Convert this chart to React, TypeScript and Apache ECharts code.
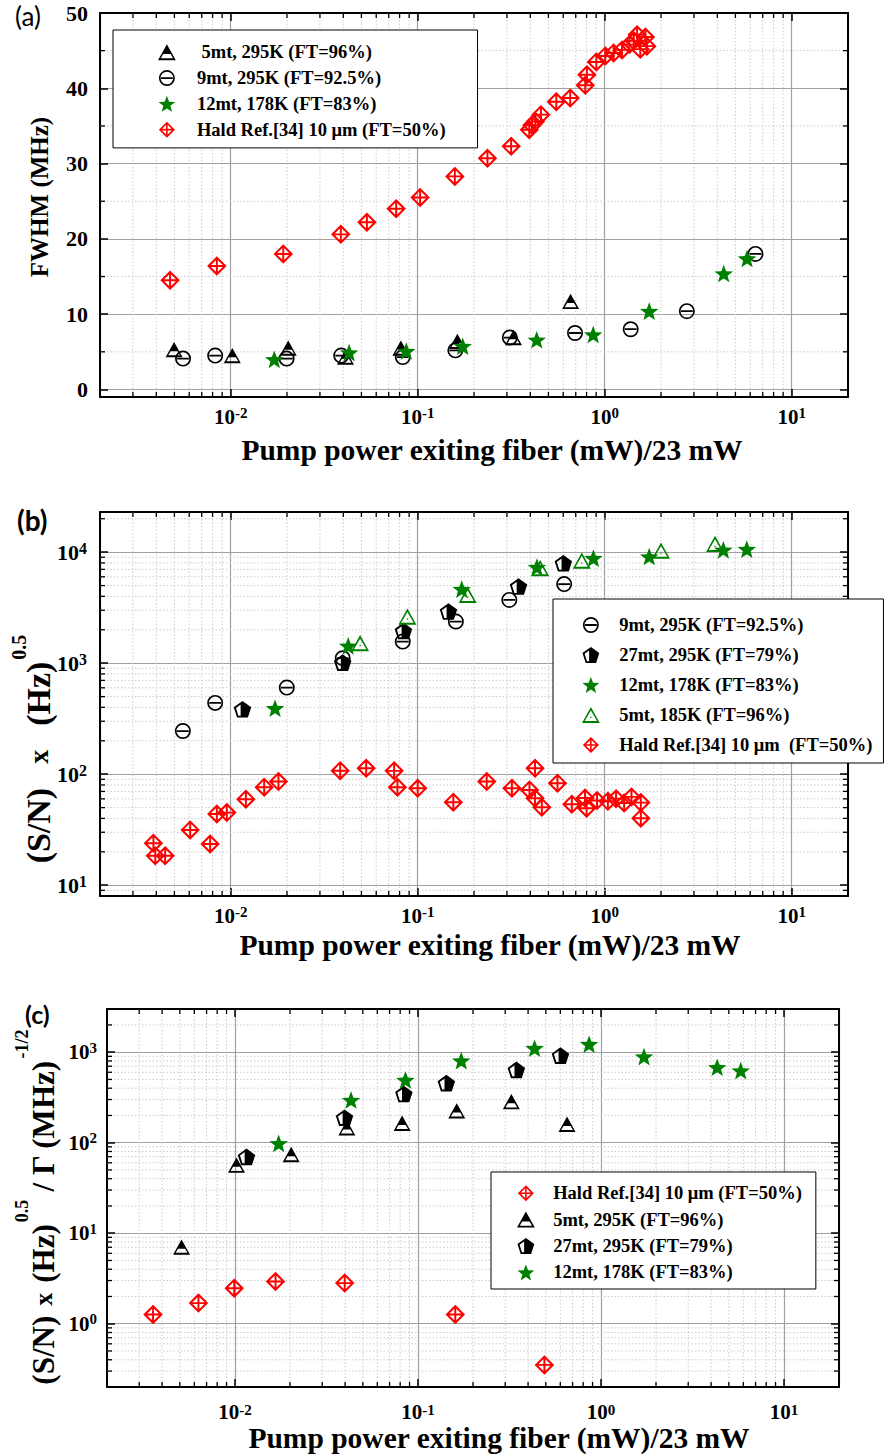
import React, { useEffect, useRef } from 'react';
import * as echarts from 'echarts';

type Pt = [number, number];

// ---- (a) FWHM (MHz) against normalised pump power ----
const fwhm5mt295: Pt[] = [
  [0.00498, 5.3], [0.0102, 4.5], [0.0203, 5.5], [0.0411, 4.3], [0.0813, 5.5],
  [0.163, 6.4], [0.325, 6.9], [0.657, 11.7],
];
const fwhm9mt295: Pt[] = [
  [0.00556, 4.1], [0.00826, 4.5], [0.0199, 4.1], [0.039, 4.5], [0.0832, 4.3],
  [0.159, 5.2], [0.311, 6.9], [0.694, 7.5], [1.377, 8.0], [2.75, 10.4], [6.4, 18.0],
];
const fwhm12mt178: Pt[] = [
  [0.0171, 4.0], [0.043, 4.9], [0.0869, 5.1], [0.174, 5.75], [0.433, 6.6],
  [0.868, 7.3], [1.73, 10.4], [4.33, 15.4], [5.77, 17.4],
];
const fwhmHald: Pt[] = [
  [0.00474, 14.5], [0.00843, 16.4], [0.0191, 18.0], [0.0388, 20.6], [0.0535, 22.2],
  [0.0767, 24.0], [0.103, 25.5], [0.158, 28.3], [0.236, 30.7], [0.316, 32.3],
  [0.395, 34.5], [0.408, 35.1], [0.426, 35.6], [0.456, 36.5], [0.551, 38.2],
  [0.654, 38.7], [0.787, 40.4], [0.803, 41.8], [0.902, 43.5], [1.008, 44.3],
  [1.116, 44.7], [1.238, 45.1], [1.355, 45.8], [1.43, 46.3], [1.49, 47.1],
  [1.55, 45.2], [1.65, 46.8], [1.68, 45.6],
];

// ---- (b) (S/N) x (Hz)^0.5 ----
const snr9mt295: Pt[] = [
  [0.00555, 245], [0.00826, 439], [0.01995, 603], [0.0397, 1109], [0.0832, 1566],
  [0.16, 2372], [0.309, 3715], [0.607, 5154],
];
const snr27mt295: Pt[] = [
  [0.01156, 385], [0.0397, 1011], [0.0839, 1954], [0.146, 2917], [0.346, 4899], [0.601, 7953],
];
const snr12mt178: Pt[] = [
  [0.01726, 393], [0.0425, 1432], [0.172, 4643], [0.434, 7329], [0.87, 8831],
  [1.73, 9130], [4.31, 10490], [5.75, 10640],
];
const snr5mt185: Pt[] = [
  [0.0492, 1514], [0.0881, 2630], [0.185, 4118], [0.452, 7183], [0.754, 8393],
  [2.0, 10330], [3.89, 11880],
];
const snrHald: Pt[] = [
  [0.00386, 23.9], [0.00395, 18.4], [0.00446, 18.4], [0.00607, 31.5], [0.00776, 23.5],
  [0.00843, 43.8], [0.00953, 45.1], [0.01205, 59.6], [0.0151, 76.4], [0.018, 85.8],
  [0.0385, 107.6], [0.053, 113.2], [0.0748, 107.2], [0.0779, 76.4], [0.1, 74.8],
  [0.155, 56.0], [0.234, 85.8], [0.319, 74.8], [0.396, 72.2], [0.424, 113.2],
  [0.424, 60.8], [0.461, 50.5], [0.559, 83.0], [0.667, 53.7], [0.785, 61.0],
  [0.8, 49.4], [0.91, 58.0], [1.04, 57.0], [1.15, 60.0], [1.27, 55.0],
  [1.39, 62.5], [1.56, 55.5], [1.56, 40.2],
];

// ---- (c) (S/N) x (Hz)^0.5 / Γ (MHz)^-1/2 ----
const fom5mt295: Pt[] = [
  [0.00511, 7.03], [0.0102, 56.5], [0.0203, 74.1], [0.0409, 146], [0.082, 164],
  [0.163, 225], [0.324, 284], [0.653, 160],
];
const fom27mt295: Pt[] = [
  [0.01157, 69.8], [0.0397, 189], [0.0838, 345], [0.143, 455], [0.345, 637], [0.601, 917],
];
const fom12mt178: Pt[] = [
  [0.01734, 98.2], [0.0431, 296], [0.0855, 493], [0.1725, 807], [0.434, 1107],
  [0.862, 1226], [1.72, 894], [4.32, 682], [5.81, 626],
];
const fomHald: Pt[] = [
  [0.00357, 1.265], [0.00632, 1.69], [0.00991, 2.47], [0.01667, 2.93], [0.0398, 2.81],
  [0.16, 1.265], [0.491, 0.351],
];

// ---- axis ranges and tick values ----
const X_RANGE: [number, number] = [0.002, 20];
const A_Y_RANGE: [number, number] = [-1, 50];
const B_Y_RANGE: [number, number] = [8, 23000];
const C_Y_RANGE: [number, number] = [0.2, 3000];
const A_Y_MINOR = [5, 15, 25, 35, 45];
const DECADE_STEPS = [2, 3, 4, 5, 6, 7, 8, 9];

// ---- texts ----
const X_TITLE = 'Pump power exiting fiber (mW)/23 mW';
const N_5MT_A = ' 5mt, 295K (FT=96%)';
const N_5MT = '5mt, 295K (FT=96%)';
const N_9MT = '9mt, 295K (FT=92.5%)';
const N_12MT = '12mt, 178K (FT=83%)';
const N_27MT = '27mt, 295K (FT=79%)';
const N_5MT185 = '5mt, 185K (FT=96%)';
const N_HALD = 'Hald Ref.[34] 10 μm (FT=50%)';
const N_HALD_B = 'Hald Ref.[34] 10 μm  (FT=50%)';

const SERIF = 'Liberation Serif';
const SANS = 'Lato';
const RED = '#ff0000';
const GREEN = '#008000';
const BLACK = '#000000';

// Marker outlines drawn in a 20-unit box (non-zero fill: inner contours run the other way)
const SYM_TRI_HALF = 'path://M10 0L20 18L0 18Z M10 4L3.1 15.8L16.9 15.8Z M10 0L16.1 11L3.9 11Z';
const SYM_TRI_OPEN = 'path://M10 0L20 18L0 18Z M10 4L3.1 15.8L16.9 15.8Z M9.3 11.1L10.7 11.1L10.7 12.5L9.3 12.5Z';
const SYM_CIRCLE_BAR = 'path://M0 10A10 10 0 1 1 20 10A10 10 0 1 1 0 10Z M2.1 10A7.9 7.9 0 1 0 17.9 10A7.9 7.9 0 1 0 2.1 10Z M2.6 8.9L17.4 8.9L17.4 11.1L2.6 11.1Z';
const SYM_DIAMOND_CROSS = 'path://M10 0L20 10L10 20L0 10Z M10 3L3 10L10 17L17 10Z M9 2L11 2L11 18L9 18Z M2 9L18 9L18 11L2 11Z';
const SYM_PENTA_HALF = 'path://M10 0L19.51 6.91L15.88 18.09L4.12 18.09L0.49 6.91Z M10 2.5L2.87 7.68L5.59 16.07L14.41 16.07L17.13 7.68Z M8 1.45L10 0L19.51 6.91L15.88 18.09L8 18.09Z';
const SYM_STAR = 'path://M10 0L12.47 6.6L19.51 6.91L13.99 11.3L15.88 18.09L10 14.2L4.12 18.09L6.01 11.3L0.49 6.91L7.53 6.6Z';

const GRIDS = [
  { left: 100, top: 13, width: 748, height: 384 },
  { left: 100, top: 512, width: 748, height: 384 },
  { left: 107, top: 1009, width: 732, height: 378 },
];

const AXIS_LINE = { show: true, onZero: false, lineStyle: { color: BLACK, width: 2 } };
const MAJOR_TICK = { show: true, inside: true, length: 8, lineStyle: { color: BLACK, width: 1.5 } };
const MAJOR_GRID = { show: true, lineStyle: { color: '#a0a0a0', width: 1.2, type: 'solid' } };
const NO_GRID = { show: false };
const MINOR_GRID_STYLE = { stroke: '#cccccc', lineWidth: 1, lineDash: [1.5, 2] };
const MINOR_TICK_STYLE = { stroke: BLACK, lineWidth: 1.3 };

const logMinor = (range: [number, number]) => {
  const out: number[] = [];
  const e0 = Math.floor(Math.log10(range[0]));
  const e1 = Math.ceil(Math.log10(range[1]));
  for (let e = e0; e <= e1; e++) {
    for (const k of DECADE_STEPS) {
      const v = +(k * Math.pow(10, e)).toPrecision(4);
      if (v > range[0] * 1.0001 && v < range[1] * 0.9999) out.push(v);
    }
  }
  return out;
};

const powLabel = (v: number) => {
  const l = Math.log10(v);
  const e = Math.round(l);
  return Math.abs(l - e) < 1e-6 ? `{b|10}{s|${e}}` : '';
};

const powRich = (base: number, sup: number, lh = 24) => ({
  b: { fontFamily: SERIF, fontWeight: 'bold', fontSize: base, lineHeight: lh, color: BLACK },
  s: { fontFamily: SERIF, fontWeight: 'bold', fontSize: sup, lineHeight: 14, color: BLACK, verticalAlign: 'top' },
});

const titleStyle = (size: number, padding: number[]) => ({
  fontFamily: SERIF, fontWeight: 'bold', fontSize: size, color: BLACK, padding,
});

// rich styles for the stacked y titles: main text sits at the bottom of a tall line,
// superscripts at its top, the "x" slightly lifted
const yTitleRich = (main: number, cross: number, crossPad: number, lift: number, sup: number, line: number) => ({
  t: { fontFamily: SERIF, fontWeight: 'bold', fontSize: main, lineHeight: line, verticalAlign: 'bottom', color: BLACK },
  x: { fontFamily: SERIF, fontWeight: 'bold', fontSize: cross, lineHeight: line, verticalAlign: 'bottom', color: BLACK, padding: [0, crossPad, lift, crossPad] },
  s: { fontFamily: SERIF, fontWeight: 'bold', fontSize: sup, lineHeight: sup, verticalAlign: 'top', color: BLACK, padding: [0, 0, 0, 2] },
});

const bottomX = (gi: number, margin: number, nameGap: number, padLeft: number, lh = 24) => ({
  type: 'log', logBase: 10, gridIndex: gi, position: 'bottom',
  min: X_RANGE[0], max: X_RANGE[1],
  axisLine: AXIS_LINE, axisTick: MAJOR_TICK, splitLine: MAJOR_GRID,
  axisLabel: { margin, formatter: powLabel, rich: powRich(21, 15, lh) },
  name: X_TITLE, nameLocation: 'middle', nameGap, nameMoveOverlap: false,
  nameTextStyle: titleStyle(29.5, [0, 0, 0, padLeft]),
});

const topX = (gi: number) => ({
  type: 'log', logBase: 10, gridIndex: gi, position: 'top',
  min: X_RANGE[0], max: X_RANGE[1],
  axisLine: AXIS_LINE, axisTick: MAJOR_TICK, splitLine: NO_GRID, axisLabel: { show: false },
});

const rightY = (gi: number, type: string, range: [number, number]) => ({
  type, gridIndex: gi, position: 'right', min: range[0], max: range[1],
  ...(type === 'log' ? { logBase: 10 } : { splitNumber: 5 }),
  axisLine: AXIS_LINE, axisTick: MAJOR_TICK, splitLine: NO_GRID, axisLabel: { show: false },
});

const minorX = (gi: number, values: number[], yRef: number) => ({
  type: 'custom', name: `minor-x-${gi}`, xAxisIndex: 2 * gi, yAxisIndex: 2 * gi,
  silent: true, z: 1, animation: false,
  data: values.map((v) => [v, yRef]),
  renderItem: (params: any, api: any) => {
    const cs = params.coordSys;
    const px = api.coord([api.value(0), api.value(1)])[0];
    const top = cs.y;
    const bot = cs.y + cs.height;
    return {
      type: 'group',
      children: [
        { type: 'line', shape: { x1: px, y1: top, x2: px, y2: bot }, style: MINOR_GRID_STYLE },
        { type: 'line', shape: { x1: px, y1: bot, x2: px, y2: bot - 5 }, style: MINOR_TICK_STYLE },
        { type: 'line', shape: { x1: px, y1: top, x2: px, y2: top + 5 }, style: MINOR_TICK_STYLE },
      ],
    };
  },
});

const minorY = (gi: number, values: number[], xRef: number) => ({
  type: 'custom', name: `minor-y-${gi}`, xAxisIndex: 2 * gi, yAxisIndex: 2 * gi,
  silent: true, z: 1, animation: false,
  data: values.map((v) => [xRef, v]),
  renderItem: (params: any, api: any) => {
    const cs = params.coordSys;
    const py = api.coord([api.value(0), api.value(1)])[1];
    const l = cs.x;
    const r = cs.x + cs.width;
    return {
      type: 'group',
      children: [
        { type: 'line', shape: { x1: l, y1: py, x2: r, y2: py }, style: MINOR_GRID_STYLE },
        { type: 'line', shape: { x1: l, y1: py, x2: l + 5, y2: py }, style: MINOR_TICK_STYLE },
        { type: 'line', shape: { x1: r, y1: py, x2: r - 5, y2: py }, style: MINOR_TICK_STYLE },
      ],
    };
  },
});

const scatter = (gi: number, name: string, data: Pt[], symbol: string, size: number[], color: string) => ({
  type: 'scatter', name, data, xAxisIndex: 2 * gi, yAxisIndex: 2 * gi,
  symbol, symbolSize: size, itemStyle: { color, opacity: 1 },
  emphasis: { disabled: true }, silent: true, z: 3,
});

const S_TRI = [17, 15.3];
const S_TRI_OPEN = [18, 16.2];
const S_CIRC = [16, 16];
const S_DIAM = [19.5, 19.5];
const S_PENTA = [17.5, 16.6];
const S_STAR = [18.5, 17.6];

const legendBase = {
  orient: 'vertical', selectedMode: false, borderColor: BLACK, borderWidth: 1,
  backgroundColor: '#ffffff', itemHeight: 16, z: 10,
  textStyle: { fontFamily: SERIF, fontWeight: 'bold', fontSize: 18.5, color: BLACK },
};

function buildOption() {
  const xMinor = logMinor(X_RANGE);
  return {
    animation: false,
    backgroundColor: '#ffffff',
    textStyle: { fontFamily: SERIF },
    grid: GRIDS.map((g) => ({ ...g, containLabel: false, outerBoundsMode: 'none' })),
    xAxis: [
      bottomX(0, 8, 38, 36), topX(0),
      bottomX(1, 8, 34, 32), topX(1),
      bottomX(2, 15, 36, 52, 20), topX(2),
    ],
    yAxis: [
      {
        type: 'value', gridIndex: 0, position: 'left', min: A_Y_RANGE[0], max: A_Y_RANGE[1], splitNumber: 5,
        axisLine: AXIS_LINE, axisTick: MAJOR_TICK, splitLine: MAJOR_GRID,
        axisLabel: {
          margin: 12, fontFamily: SERIF, fontWeight: 'bold', fontSize: 22, color: BLACK,
          formatter: (v: number) => (v < 0 ? '' : String(v)),
        },
        name: 'FWHM (MHz)', nameLocation: 'middle', nameRotate: 90, nameGap: 48, nameMoveOverlap: false,
        nameTextStyle: titleStyle(25, [0, 0, 0, 16]),
      },
      rightY(0, 'value', A_Y_RANGE),
      {
        type: 'log', logBase: 10, gridIndex: 1, position: 'left', min: B_Y_RANGE[0], max: B_Y_RANGE[1],
        axisLine: AXIS_LINE, axisTick: MAJOR_TICK, splitLine: MAJOR_GRID,
        axisLabel: { margin: 13, formatter: powLabel, rich: powRich(22, 16) },
        name: '{t|(S/N)}{x|x}{t|(Hz)}{s|0.5}', nameLocation: 'middle', nameRotate: 90, nameGap: 45,
        nameMoveOverlap: false,
        nameTextStyle: { padding: [0, 90, 0, 0], rich: yTitleRich(34, 28, 24, 3, 20, 46) },
      },
      rightY(1, 'log', B_Y_RANGE),
      {
        type: 'log', logBase: 10, gridIndex: 2, position: 'left', min: C_Y_RANGE[0], max: C_Y_RANGE[1],
        axisLine: AXIS_LINE, axisTick: MAJOR_TICK, splitLine: MAJOR_GRID,
        axisLabel: { margin: 10, formatter: powLabel, rich: powRich(21, 15) },
        name: '{t|(S/N)}{x|x}{t|(Hz)}{s|0.5}{t| / Γ (MHz)}{s|-1/2}', nameLocation: 'middle', nameRotate: 90,
        nameGap: 48, nameMoveOverlap: false,
        nameTextStyle: { padding: [0, 18, 0, 0], rich: yTitleRich(31, 26, 10, 3, 18, 46) },
      },
      rightY(2, 'log', C_Y_RANGE),
    ],
    legend: [
      {
        ...legendBase, left: 113, top: 30, itemWidth: 50, itemGap: 6.8, padding: [12.75, 32, 8.75, 45],
        data: [N_5MT_A, N_9MT, N_12MT, N_HALD],
      },
      {
        ...legendBase, left: 553, top: 599, itemWidth: 46.6, itemGap: 11, padding: [16.5, 11, 8.5, 29],
        data: [N_9MT, N_27MT, N_12MT, N_5MT185, N_HALD_B],
      },
      {
        ...legendBase, left: 491, top: 1172, itemWidth: 44.6, itemGap: 7.4, padding: [11.7, 14, 7.1, 26],
        data: [N_HALD, N_5MT, N_27MT, N_12MT],
      },
    ],
    graphic: [
      { type: 'text', left: 15, top: 3, style: { text: '(a)', fontFamily: SANS, fontSize: 26, fill: BLACK } },
      { type: 'text', left: 17, top: 506, style: { text: '(b)', fontFamily: SANS, fontWeight: 'bold', fontSize: 28, fill: BLACK } },
      { type: 'text', left: 25, top: 1001, style: { text: '(c)', fontFamily: SANS, fontWeight: 'bold', fontSize: 25, fill: BLACK } },
    ],
    series: [
      // panel (a)
      minorX(0, xMinor, A_Y_RANGE[1]),
      minorY(0, A_Y_MINOR, X_RANGE[1]),
      scatter(0, N_HALD, fwhmHald, SYM_DIAMOND_CROSS, S_DIAM, RED),
      scatter(0, N_9MT, fwhm9mt295, SYM_CIRCLE_BAR, S_CIRC, BLACK),
      scatter(0, N_5MT_A, fwhm5mt295, SYM_TRI_HALF, S_TRI, BLACK),
      scatter(0, N_12MT, fwhm12mt178, SYM_STAR, S_STAR, GREEN),
      // panel (b)
      minorX(1, xMinor, B_Y_RANGE[1]),
      minorY(1, logMinor(B_Y_RANGE), X_RANGE[1]),
      scatter(1, N_HALD_B, snrHald, SYM_DIAMOND_CROSS, S_DIAM, RED),
      scatter(1, N_9MT, snr9mt295, SYM_CIRCLE_BAR, S_CIRC, BLACK),
      scatter(1, N_27MT, snr27mt295, SYM_PENTA_HALF, S_PENTA, BLACK),
      scatter(1, N_5MT185, snr5mt185, SYM_TRI_OPEN, S_TRI_OPEN, GREEN),
      scatter(1, N_12MT, snr12mt178, SYM_STAR, S_STAR, GREEN),
      // panel (c)
      minorX(2, xMinor, C_Y_RANGE[1]),
      minorY(2, logMinor(C_Y_RANGE), X_RANGE[1]),
      scatter(2, N_HALD, fomHald, SYM_DIAMOND_CROSS, S_DIAM, RED),
      scatter(2, N_5MT, fom5mt295, SYM_TRI_HALF, S_TRI, BLACK),
      scatter(2, N_27MT, fom27mt295, SYM_PENTA_HALF, S_PENTA, BLACK),
      scatter(2, N_12MT, fom12mt178, SYM_STAR, S_STAR, GREEN),
    ],
  };
}

export default function App() {
  const ref = useRef<HTMLDivElement>(null);
  useEffect(() => {
    if (!ref.current) return undefined;
    const chart = echarts.init(ref.current, undefined, { renderer: 'svg' });
    chart.setOption(buildOption() as any);
    return () => chart.dispose();
  }, []);
  return (
    <div
      ref={ref}
      style={{ position: 'absolute', left: 0, top: 0, width: 886, height: 1456, background: '#ffffff' }}
    />
  );
}
